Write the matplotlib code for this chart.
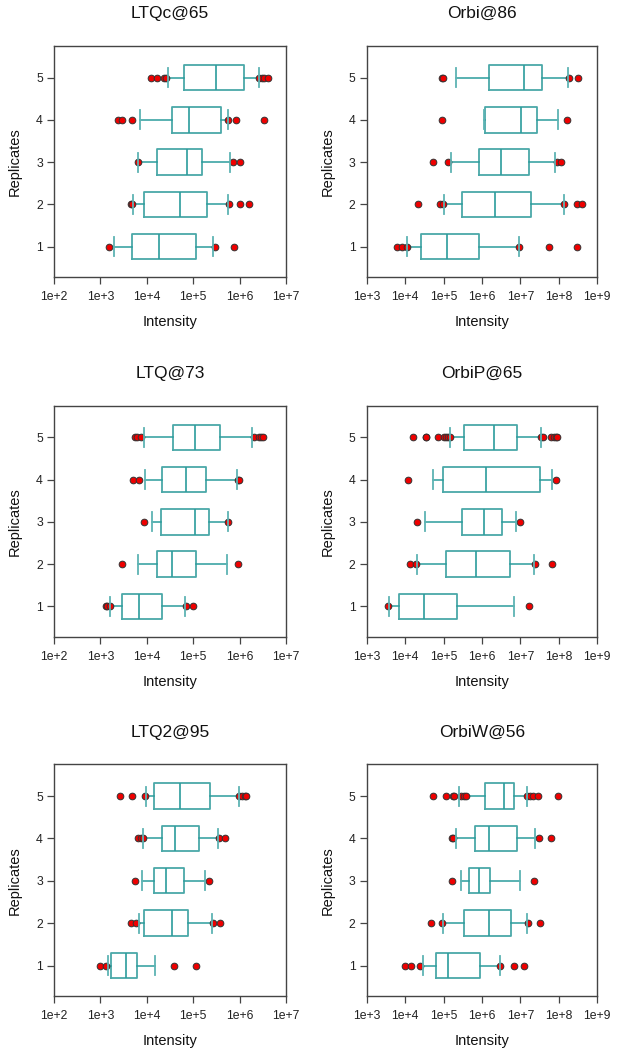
import matplotlib
matplotlib.use("Agg")
import matplotlib.pyplot as plt
from matplotlib.ticker import FixedLocator, NullLocator
import numpy as np

plt.rcParams['font.family'] = ['Liberation Sans', 'DejaVu Sans']

replicates = [1, 2, 3, 4, 5]

# ---- data: log10(Intensity); rows = replicates 1..5; [whisker_lo, q1, median, q3, whisker_hi]
titles = ["LTQc@65", "Orbi@86", "LTQ@73", "OrbiP@65", "LTQ2@95", "OrbiW@56"]
decades_left = [2, 3, 4, 5, 6, 7]
decades_right = [3, 4, 5, 6, 7, 8, 9]

ltqc65_stats = [[3.30, 3.69, 4.26, 5.05, 5.42],
                [3.71, 3.93, 4.71, 5.29, 5.75],
                [3.82, 4.21, 4.86, 5.18, 5.80],
                [3.86, 4.55, 4.91, 5.59, 5.75],
                [4.45, 4.81, 5.50, 6.09, 6.41]]
ltqc65_fliers = [[3.18, 5.47, 5.87],
                 [3.65, 3.69, 5.78, 6.01, 6.21],
                 [3.82, 5.85, 6.00],
                 [3.38, 3.46, 3.69, 5.75, 5.93, 6.52],
                 [4.10, 4.23, 4.36, 4.41, 6.41, 6.48, 6.52, 6.61]]

orbi86_stats = [[4.04, 4.40, 5.08, 5.91, 6.95],
                [5.00, 5.48, 6.33, 7.28, 8.13],
                [5.19, 5.93, 6.49, 7.23, 7.91],
                [6.05, 6.09, 7.01, 7.43, 7.99],
                [5.32, 6.19, 7.10, 7.57, 8.24]]
orbi86_fliers = [[3.80, 3.91, 4.04, 6.96, 7.74, 8.46],
                 [4.34, 4.91, 4.98, 8.13, 8.46, 8.61],
                 [4.72, 5.12, 7.94, 8.06],
                 [4.97, 8.22],
                 [4.95, 4.99, 8.26, 8.49]]

ltq73_stats = [[3.20, 3.47, 3.84, 4.32, 4.83],
               [3.82, 4.23, 4.55, 5.05, 5.72],
               [4.11, 4.30, 5.03, 5.33, 5.74],
               [3.97, 4.32, 4.85, 5.28, 5.95],
               [3.95, 4.56, 5.03, 5.58, 6.27]]
ltq73_fliers = [[3.12, 3.15, 3.20, 4.85, 4.99],
                [3.46, 5.97],
                [3.95, 5.74],
                [3.71, 3.84, 5.96, 5.98],
                [3.75, 3.79, 3.87, 6.32, 6.41, 6.46, 6.51]]

orbip65_stats = [[3.59, 3.85, 4.50, 5.36, 6.84],
                 [4.30, 5.07, 5.85, 6.73, 7.36],
                 [4.52, 5.49, 6.04, 6.53, 6.89],
                 [4.72, 4.99, 6.10, 7.50, 7.82],
                 [5.16, 5.54, 6.30, 6.92, 7.54]]
orbip65_fliers = [[3.56, 7.22],
                  [4.12, 4.29, 7.38, 7.83],
                  [4.32, 6.98],
                  [4.07, 7.93],
                  [4.21, 4.53, 4.55, 4.86, 5.01, 5.06, 5.12, 5.17,
                   7.54, 7.60, 7.79, 7.87, 7.93, 7.95]]

ltq295_stats = [[3.17, 3.23, 3.56, 3.79, 4.17],
                [3.84, 3.93, 4.54, 4.88, 5.41],
                [3.89, 4.15, 4.41, 4.81, 5.26],
                [3.92, 4.33, 4.60, 5.12, 5.54],
                [3.98, 4.15, 4.72, 5.36, 5.98]]
ltq295_fliers = [[2.99, 3.12, 4.59, 5.05],
                 [3.66, 3.76, 5.43, 5.58],
                 [3.74, 5.34],
                 [3.82, 3.87, 3.91, 5.55, 5.69],
                 [3.43, 3.69, 3.97, 5.98, 6.06, 6.11, 6.14]]

orbiw56_stats = [[4.47, 4.81, 5.12, 5.94, 6.46],
                 [4.99, 5.52, 6.17, 6.76, 7.18],
                 [5.45, 5.66, 5.91, 6.20, 7.00],
                 [5.32, 5.81, 6.19, 6.92, 7.39],
                 [5.39, 6.09, 6.56, 6.83, 7.17]]
orbiw56_fliers = [[3.99, 4.14, 4.39, 6.48, 6.82, 7.08],
                  [4.67, 4.95, 7.19, 7.51],
                  [5.21, 7.35],
                  [5.22, 5.25, 7.48, 7.79],
                  [4.72, 5.06, 5.25, 5.27, 5.45, 5.52, 5.58,
                   7.16, 7.25, 7.32, 7.46, 7.99]]

panels = [(ltqc65_stats, ltqc65_fliers, decades_left),
          (orbi86_stats, orbi86_fliers, decades_right),
          (ltq73_stats, ltq73_fliers, decades_left),
          (orbip65_stats, orbip65_fliers, decades_right),
          (ltq295_stats, ltq295_fliers, decades_left),
          (orbiw56_stats, orbiw56_fliers, decades_right)]

# ---- layout
W, H = 620, 1050
fig = plt.figure(figsize=(W / 100, H / 100), dpi=100)
col_x = [(54, 232), (366.7, 230.6)]
row_y = [(46, 231), (405.7, 231), (764.3, 231.7)]

box_col = '#4aa8a8'
line_col = '#2b9c9c'
spine_col = '#444444'

for i, (stats, fliers, decs) in enumerate(panels):
    r, c = divmod(i, 2)
    x0, w = col_x[c]
    y0, h = row_y[r]
    ax = fig.add_axes([x0 / W, 1 - (y0 + h) / H, w / W, h / H])

    bxp_stats = []
    for s, f in zip(stats, fliers):
        bxp_stats.append(dict(whislo=10 ** s[0], q1=10 ** s[1], med=10 ** s[2],
                              q3=10 ** s[3], whishi=10 ** s[4],
                              fliers=10 ** np.array(f)))
    ax.set_xscale('log')
    ax.bxp(bxp_stats, positions=replicates, vert=False, widths=0.6,
           capwidths=0.45, showfliers=True, manage_ticks=False,
           boxprops=dict(color=box_col, linewidth=1.3),
           medianprops=dict(color=line_col, linewidth=1.2),
           whiskerprops=dict(color=line_col, linewidth=1.1),
           capprops=dict(color='#5db3b3', linewidth=1.3, zorder=4),
           flierprops=dict(marker='o', markerfacecolor='#ee0000',
                           markeredgecolor='#333333', markeredgewidth=0.7,
                           markersize=4.8, linestyle='none', zorder=3))

    ax.set_xlim(10 ** decs[0], 10 ** decs[-1])
    ax.set_ylim(0.28, 5.75)
    ax.xaxis.set_major_locator(FixedLocator([10.0 ** d for d in decs]))
    ax.xaxis.set_minor_locator(NullLocator())
    ax.set_xticklabels([f"1e+{d}" for d in decs])
    ax.set_yticks(replicates)
    ax.set_yticklabels([str(v) for v in replicates])
    ax.tick_params(axis='both', direction='out', length=5, width=0.9,
                   color=spine_col, labelsize=8.8, labelcolor='#222222', pad=3)
    ax.tick_params(axis='x', pad=5)
    for sp in ax.spines.values():
        sp.set_color(spine_col)
        sp.set_linewidth(1.0)

    ax.set_title(titles[i], fontsize=12.5, pad=20, color='#111111')
    ax.set_xlabel("Intensity", fontsize=10.5, labelpad=9, color='#111111')
    ax.set_ylabel("Replicates", fontsize=10.5, labelpad=10, color='#111111')

fig.savefig("out.png", dpi=100)
